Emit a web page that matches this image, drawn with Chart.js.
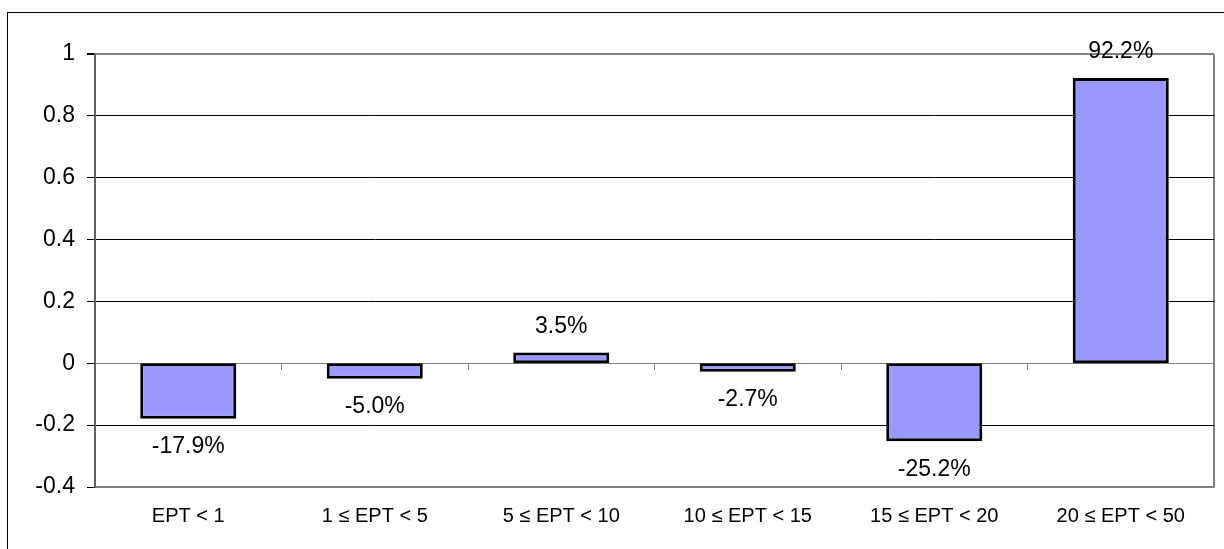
<!DOCTYPE html>
<html>
<head>
<meta charset="utf-8">
<script src="https://cdn.jsdelivr.net/npm/chart.js@4/dist/chart.umd.min.js"></script>
<style>
  html, body { margin: 0; padding: 0; background: #fff; overflow: hidden; }
  #wrap { position: relative; width: 1224px; height: 549px; }
  #frame { position: absolute; left: 7px; top: 12px; width: 1400px; height: 700px; border: 1px solid #000; }
  canvas { position: absolute; left: 0; top: 0; }
</style>
</head>
<body>
<div id="wrap">
  <div id="frame"></div>
  <canvas id="c" width="1224" height="549"></canvas>
</div>
<script>
const categories = ['EPT < 1', '1 ≤ EPT < 5', '5 ≤ EPT < 10', '10 ≤ EPT < 15', '15 ≤ EPT < 20', '20 ≤ EPT < 50'];
const values = [-0.179, -0.05, 0.035, -0.027, -0.252, 0.922];
const yTickLabels = ['-0.4', '-0.2', '0', '0.2', '0.4', '0.6', '0.8', '1'];

const FONT = "'Liberation Sans', Arial, sans-serif";

const dataLabels = {
  id: 'dataLabels',
  afterDatasetsDraw(chart) {
    const ctx = chart.ctx;
    const meta = chart.getDatasetMeta(0);
    ctx.save();
    ctx.font = '23px ' + FONT;
    ctx.fillStyle = '#000';
    ctx.textAlign = 'center';
    ctx.textBaseline = 'middle';
    meta.data.forEach((el, i) => {
      const v = values[i];
      const txt = (v * 100).toFixed(1) + '%';
      const y = v >= 0 ? el.y - 26 : el.y + 28;
      ctx.fillText(txt, el.x, y);
    });
    ctx.restore();
  }
};

new Chart(document.getElementById('c'), {
  type: 'bar',
  data: {
    labels: categories,
    datasets: [{
      data: values,
      backgroundColor: '#9999FF',
      borderColor: '#000',
      borderWidth: 3,
      borderSkipped: false,
      barPercentage: 1,
      categoryPercentage: 0.515
    }]
  },
  plugins: [dataLabels],
  options: {
    responsive: false,
    animation: false,
    events: [],
    layout: { padding: { left: 0, top: 54, right: 10, bottom: 0 } },
    plugins: { legend: { display: false }, tooltip: { enabled: false } },
    scales: {
      x: {
        type: 'category',
        position: 'bottom',
        offset: true,
        afterFit(s) { s.height = 62; },
        grid: {
          offset: true,
          drawTicks: false,
          color: (c) => c.tick ? 'rgba(0,0,0,0)' : '#808080',
          lineWidth: 2
        },
        border: { color: '#808080', width: 2 },
        ticks: { color: '#000', font: { family: FONT, size: 20 }, padding: 17, maxRotation: 0, autoSkip: false }
      },
      x2: {
        type: 'category',
        axis: 'x',
        labels: categories,
        position: { y: 0 },
        offset: true,
        grid: {
          offset: true,
          drawOnChartArea: false,
          drawTicks: true,
          tickLength: 6,
          color: '#808080',
          tickColor: '#808080'
        },
        border: { color: '#808080', width: 1 },
        ticks: { display: false }
      },
      y: {
        min: -0.4,
        max: 1,
        afterFit(s) { s.width = 95; },
        ticks: {
          stepSize: 0.2,
          color: '#000',
          font: { family: FONT, size: 23 },
          padding: 12,
          callback: (v, i) => yTickLabels[i]
        },
        grid: {
          color: (c) => (c.tick && (Math.abs(c.tick.value) < 1e-9 || Math.abs(c.tick.value - 1) < 1e-9)) ? '#808080' : '#000',
          lineWidth: (c) => (c.tick && Math.abs(c.tick.value - 1) < 1e-9) ? 2 : 1,
          tickColor: '#000',
          tickLength: 8
        },
        border: { color: '#606060', width: 2 }
      }
    }
  }
});
</script>
</body>
</html>
